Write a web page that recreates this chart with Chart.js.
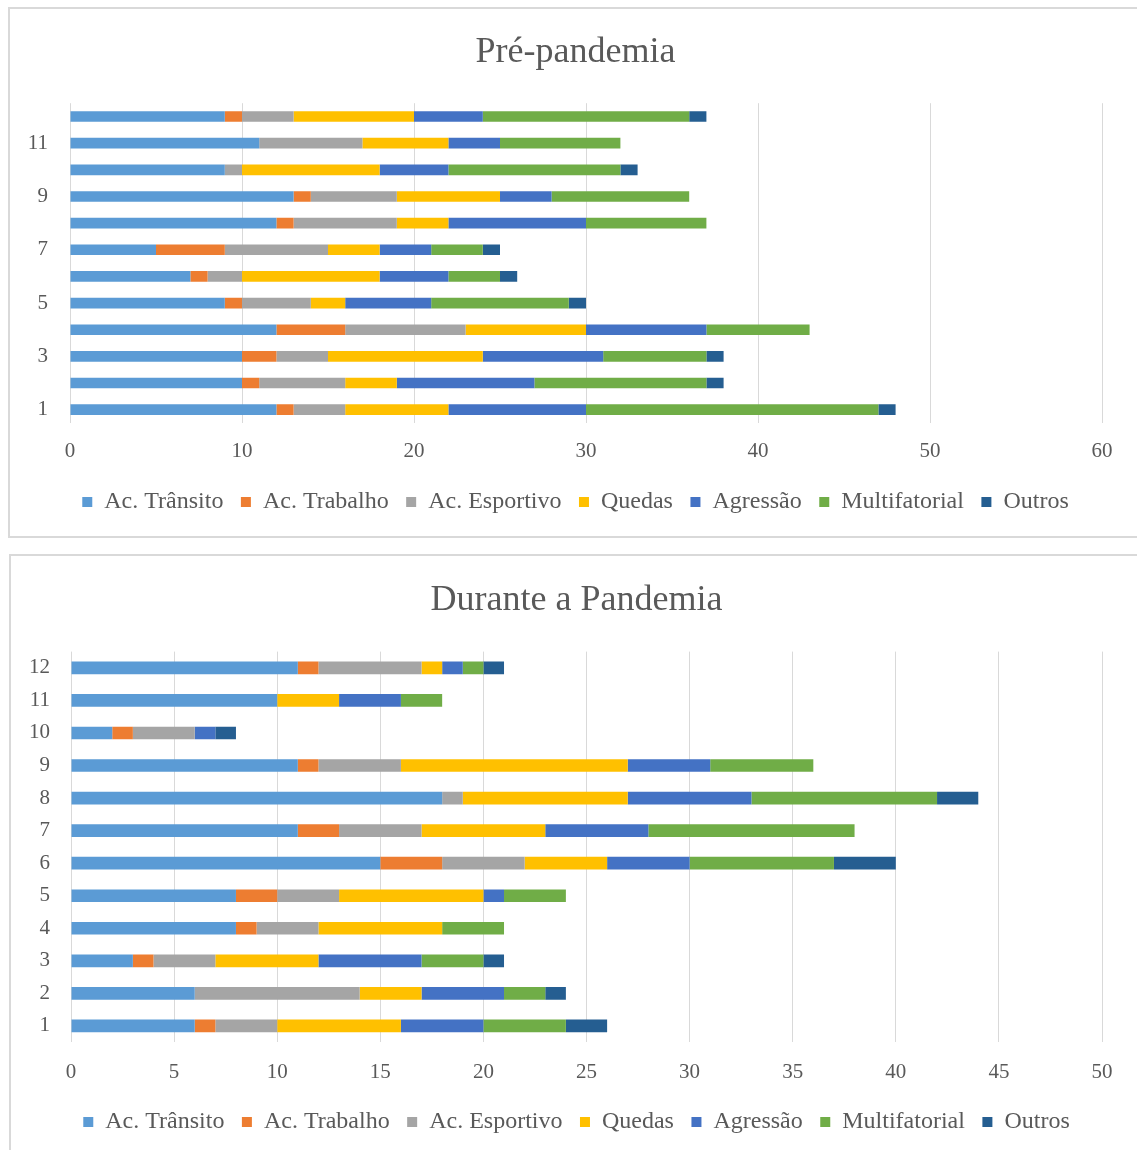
<!DOCTYPE html>
<html>
<head>
<meta charset="utf-8">
<script src="https://cdn.jsdelivr.net/npm/chart.js@4.4.0/dist/chart.umd.min.js"></script>
<style>
  html, body { margin: 0; padding: 0; background: #fff; overflow: hidden; width: 1137px; height: 1150px; }
  .panel { position: absolute; border: 2px solid #d9d9d9; box-sizing: border-box; }
  canvas { position: absolute; left: 0; }
</style>
</head>
<body>
<div class="panel" style="left:8px;top:7px;width:1140px;height:531px"></div>
<div class="panel" style="left:9px;top:554px;width:1140px;height:610px"></div>
<canvas id="pre" width="1137" height="537" style="top:0"></canvas>
<canvas id="dur" width="1137" height="595" style="top:555px"></canvas>
<script>
// Row labels (1 at the bottom, 12 at the top)
const categories = ['1', '2', '3', '4', '5', '6', '7', '8', '9', '10', '11', '12'];
const seriesNames = ['Ac. Trânsito', 'Ac. Trabalho', 'Ac. Esportivo', 'Quedas', 'Agressão', 'Multifatorial', 'Outros'];
const seriesColors = ['#5B9BD5', '#ED7D31', '#A5A5A5', '#FFC000', '#4472C4', '#70AD47', '#255E91'];

// Pré-pandemia
const preTransito  = [12, 10, 10, 12, 9, 7, 5, 12, 13, 9, 11, 9];
const preTrabalho  = [1, 1, 2, 4, 1, 1, 4, 1, 1, 0, 0, 1];
const preEsportivo = [3, 5, 3, 7, 4, 2, 6, 6, 5, 1, 6, 3];
const preQuedas    = [6, 3, 9, 7, 2, 8, 3, 3, 6, 8, 5, 7];
const preAgressao  = [8, 8, 7, 7, 5, 4, 3, 8, 3, 4, 3, 4];
const preMulti     = [17, 10, 6, 6, 8, 3, 3, 7, 8, 10, 7, 12];
const preOutros    = [1, 1, 1, 0, 1, 1, 1, 0, 0, 1, 0, 1];

// Durante a Pandemia
const durTransito  = [6, 6, 3, 8, 8, 15, 11, 18, 11, 2, 10, 11];
const durTrabalho  = [1, 0, 1, 1, 2, 3, 2, 0, 1, 1, 0, 1];
const durEsportivo = [3, 8, 3, 3, 3, 4, 4, 1, 4, 3, 0, 5];
const durQuedas    = [6, 3, 5, 6, 7, 4, 6, 8, 11, 0, 3, 1];
const durAgressao  = [4, 4, 5, 0, 1, 4, 5, 6, 4, 1, 3, 1];
const durMulti     = [4, 2, 3, 3, 3, 7, 10, 9, 5, 0, 2, 1];
const durOutros    = [2, 1, 1, 0, 0, 3, 0, 2, 0, 1, 0, 1];

const TEXT = '#595959';
const GRID = '#d9d9d9';
const SERIF = "'Liberation Serif', 'Times New Roman', serif";

function stackedBar(id, cfg) {
  const datasets = cfg.series.map((values, i) => ({
    label: seriesNames[i],
    data: values,
    backgroundColor: seriesColors[i],
    borderWidth: 0,
    barPercentage: 1,
    categoryPercentage: cfg.barFrac
  }));
  return new Chart(document.getElementById(id), {
    type: 'bar',
    data: { labels: categories, datasets },
    options: {
      indexAxis: 'y',
      responsive: false,
      animation: false,
      devicePixelRatio: 1,
      layout: { padding: { left: 26, right: cfg.padRight, top: 0, bottom: cfg.padBottom } },
      plugins: {
        tooltip: { enabled: false },
        title: {
          display: true,
          text: cfg.title,
          color: TEXT,
          font: { family: SERIF, size: 36, weight: 'normal', lineHeight: 1.2 },
          padding: { top: cfg.titleTop, bottom: cfg.titleBottom }
        },
        legend: {
          position: 'bottom',
          labels: {
            color: TEXT,
            boxWidth: 10,
            boxHeight: 10,
            padding: 17.5,
            font: { family: SERIF, size: 24 }
          }
        }
      },
      scales: {
        x: {
          stacked: true,
          min: 0,
          max: cfg.max,
          afterFit: s => { s.height = cfg.xHeight; },
          ticks: {
            stepSize: cfg.step,
            color: TEXT,
            padding: cfg.xPad,
            font: { family: SERIF, size: 21, lineHeight: 1.2 }
          },
          grid: { color: GRID, lineWidth: 1, drawTicks: false },
          border: { display: false }
        },
        y: {
          stacked: true,
          reverse: true,
          afterFit: s => { s.width = cfg.yWidth; },
          ticks: {
            autoSkip: false,
            color: TEXT,
            padding: cfg.yPad,
            font: { family: SERIF, size: 21 },
            callback: function (v, i) {
              return (cfg.oddOnly && i % 2 === 1) ? '' : this.getLabelForValue(v);
            }
          },
          grid: { display: false, drawTicks: false },
          border: { display: false }
        },
        // empty spacer on the right so the title and legend centre over the panel
        yRight: {
          type: 'linear',
          position: 'right',
          display: true,
          afterFit: s => { s.width = cfg.rightGap; },
          ticks: { display: false },
          grid: { display: false, drawTicks: false },
          border: { display: false }
        }
      }
    }
  });
}

stackedBar('pre', {
  title: 'Pré-pandemia',
  series: [preTransito, preTrabalho, preEsportivo, preQuedas, preAgressao, preMulti, preOutros],
  max: 60, step: 10,
  barFrac: 0.4,
  yWidth: 44, yPad: 22,
  rightGap: 23, padRight: 12,
  titleTop: 31, titleBottom: 29,
  xHeight: 49.5, xPad: 15.4,
  padBottom: 13,
  oddOnly: true
});

stackedBar('dur', {
  title: 'Durante a Pandemia',
  series: [durTransito, durTrabalho, durEsportivo, durQuedas, durAgressao, durMulti, durOutros],
  max: 50, step: 5,
  barFrac: 0.39,
  yWidth: 45, yPad: 21,
  rightGap: 25, padRight: 10,
  titleTop: 24.4, titleBottom: 29,
  xHeight: 50.3, xPad: 17.2,
  padBottom: 6,
  oddOnly: false
});
</script>
</body>
</html>
